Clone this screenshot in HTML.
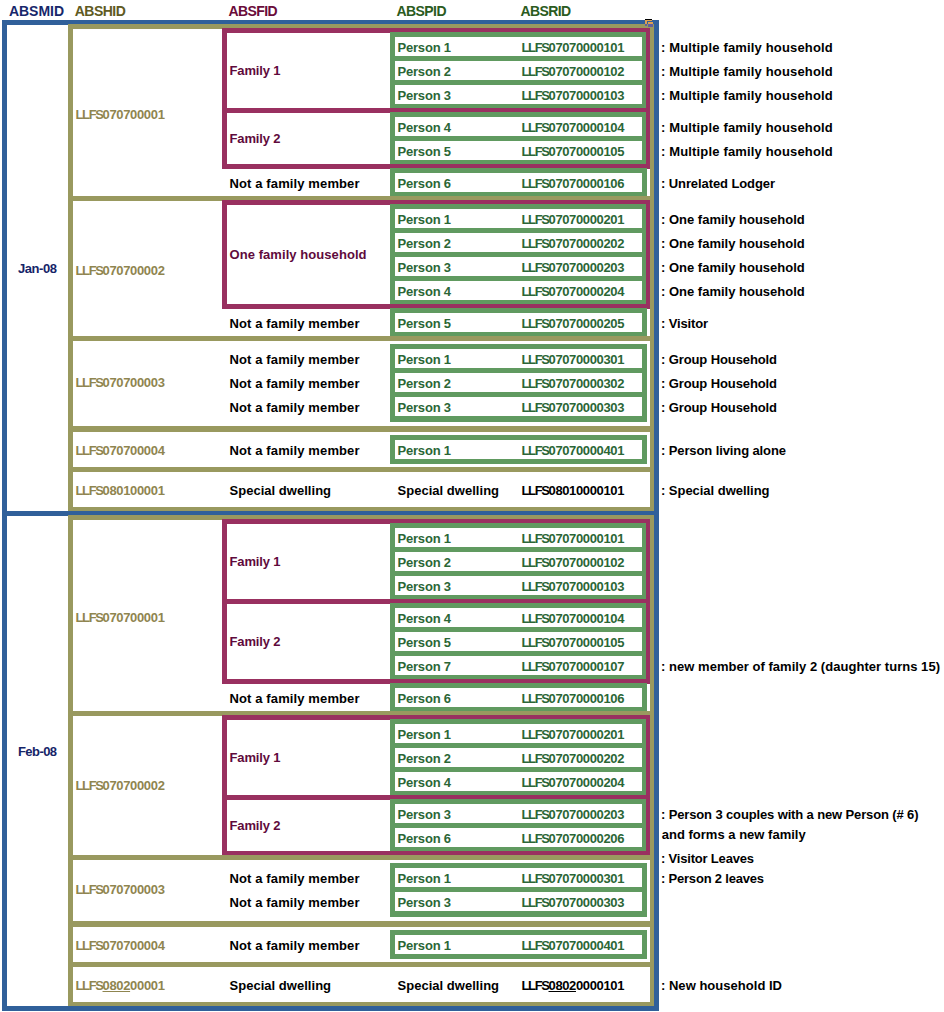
<!DOCTYPE html>
<html><head><meta charset="utf-8"><title>ABS identifiers</title>
<style>
html,body{margin:0;padding:0;background:#fff;}
body{width:944px;height:1012px;position:relative;overflow:hidden;font-family:"Liberation Sans",sans-serif;font-weight:bold;}
.r{position:absolute;}
.t{position:absolute;white-space:nowrap;line-height:16px;height:16px;}
u{text-decoration:underline;}
</style></head><body>
<div class="r" style="left:2px;top:20px;width:657px;height:5px;background:#30609a"></div>
<div class="r" style="left:2px;top:511px;width:657px;height:5px;background:#30609a"></div>
<div class="r" style="left:2px;top:1006px;width:657px;height:5px;background:#30609a"></div>
<div class="r" style="left:2px;top:20px;width:5px;height:991px;background:#30609a"></div>
<div class="r" style="left:654px;top:20px;width:5px;height:991px;background:#30609a"></div>
<div class="r" style="left:68px;top:24px;width:5px;height:487px;background:#99995f"></div>
<div class="r" style="left:650px;top:24px;width:4px;height:487px;background:#99995f"></div>
<div class="r" style="left:68px;top:515px;width:5px;height:491px;background:#99995f"></div>
<div class="r" style="left:650px;top:515px;width:4px;height:491px;background:#99995f"></div>
<div class="r" style="left:68px;top:24px;width:586px;height:5px;background:#99995f"></div>
<div class="r" style="left:68px;top:196px;width:586px;height:5px;background:#99995f"></div>
<div class="r" style="left:68px;top:336px;width:586px;height:5px;background:#99995f"></div>
<div class="r" style="left:68px;top:426px;width:586px;height:6px;background:#99995f"></div>
<div class="r" style="left:68px;top:467px;width:586px;height:5px;background:#99995f"></div>
<div class="r" style="left:68px;top:507px;width:586px;height:4px;background:#99995f"></div>
<div class="r" style="left:68px;top:515px;width:586px;height:5px;background:#99995f"></div>
<div class="r" style="left:68px;top:711px;width:586px;height:5px;background:#99995f"></div>
<div class="r" style="left:68px;top:855px;width:586px;height:5px;background:#99995f"></div>
<div class="r" style="left:68px;top:921px;width:586px;height:6px;background:#99995f"></div>
<div class="r" style="left:68px;top:962px;width:586px;height:5px;background:#99995f"></div>
<div class="r" style="left:68px;top:1002px;width:586px;height:4px;background:#99995f"></div>
<div class="r" style="left:222px;top:28px;width:5px;height:141px;background:#993060"></div>
<div class="r" style="left:646px;top:28px;width:4px;height:141px;background:#993060"></div>
<div class="r" style="left:222px;top:28px;width:428px;height:5px;background:#993060"></div>
<div class="r" style="left:222px;top:108px;width:428px;height:5px;background:#993060"></div>
<div class="r" style="left:222px;top:164px;width:428px;height:5px;background:#993060"></div>
<div class="r" style="left:222px;top:200px;width:5px;height:109px;background:#993060"></div>
<div class="r" style="left:646px;top:200px;width:4px;height:109px;background:#993060"></div>
<div class="r" style="left:222px;top:200px;width:428px;height:5px;background:#993060"></div>
<div class="r" style="left:222px;top:304px;width:428px;height:5px;background:#993060"></div>
<div class="r" style="left:222px;top:519px;width:5px;height:165px;background:#993060"></div>
<div class="r" style="left:646px;top:519px;width:4px;height:165px;background:#993060"></div>
<div class="r" style="left:222px;top:519px;width:428px;height:5px;background:#993060"></div>
<div class="r" style="left:222px;top:599px;width:428px;height:5px;background:#993060"></div>
<div class="r" style="left:222px;top:679px;width:428px;height:5px;background:#993060"></div>
<div class="r" style="left:222px;top:715px;width:5px;height:140px;background:#993060"></div>
<div class="r" style="left:646px;top:715px;width:4px;height:140px;background:#993060"></div>
<div class="r" style="left:222px;top:715px;width:428px;height:5px;background:#993060"></div>
<div class="r" style="left:222px;top:795px;width:428px;height:5px;background:#993060"></div>
<div class="r" style="left:222px;top:851px;width:428px;height:4px;background:#993060"></div>
<div class="r" style="left:390px;top:32px;width:256px;height:76px;background:#609a60"></div>
<div class="r" style="left:390px;top:112px;width:256px;height:52px;background:#609a60"></div>
<div class="r" style="left:390px;top:168px;width:257px;height:28px;background:#609a60"></div>
<div class="r" style="left:390px;top:204px;width:256px;height:100px;background:#609a60"></div>
<div class="r" style="left:390px;top:308px;width:257px;height:28px;background:#609a60"></div>
<div class="r" style="left:390px;top:344px;width:257px;height:78px;background:#609a60"></div>
<div class="r" style="left:390px;top:435px;width:257px;height:29px;background:#609a60"></div>
<div class="r" style="left:390px;top:523px;width:256px;height:76px;background:#609a60"></div>
<div class="r" style="left:390px;top:603px;width:256px;height:76px;background:#609a60"></div>
<div class="r" style="left:390px;top:683px;width:257px;height:28px;background:#609a60"></div>
<div class="r" style="left:390px;top:719px;width:256px;height:76px;background:#609a60"></div>
<div class="r" style="left:390px;top:799px;width:256px;height:52px;background:#609a60"></div>
<div class="r" style="left:390px;top:863px;width:257px;height:54px;background:#609a60"></div>
<div class="r" style="left:390px;top:930px;width:257px;height:29px;background:#609a60"></div>
<div class="r" style="left:395px;top:37px;width:247px;height:19px;background:#fff"></div>
<div class="r" style="left:395px;top:61px;width:247px;height:19px;background:#fff"></div>
<div class="r" style="left:395px;top:85px;width:247px;height:19px;background:#fff"></div>
<div class="r" style="left:395px;top:117px;width:247px;height:19px;background:#fff"></div>
<div class="r" style="left:395px;top:141px;width:247px;height:19px;background:#fff"></div>
<div class="r" style="left:395px;top:173px;width:247px;height:19px;background:#fff"></div>
<div class="r" style="left:395px;top:209px;width:247px;height:19px;background:#fff"></div>
<div class="r" style="left:395px;top:233px;width:247px;height:19px;background:#fff"></div>
<div class="r" style="left:395px;top:257px;width:247px;height:19px;background:#fff"></div>
<div class="r" style="left:395px;top:281px;width:247px;height:19px;background:#fff"></div>
<div class="r" style="left:395px;top:313px;width:247px;height:19px;background:#fff"></div>
<div class="r" style="left:395px;top:349px;width:247px;height:19px;background:#fff"></div>
<div class="r" style="left:395px;top:373px;width:247px;height:19px;background:#fff"></div>
<div class="r" style="left:395px;top:397px;width:247px;height:19px;background:#fff"></div>
<div class="r" style="left:395px;top:440px;width:247px;height:19px;background:#fff"></div>
<div class="r" style="left:395px;top:528px;width:247px;height:19px;background:#fff"></div>
<div class="r" style="left:395px;top:552px;width:247px;height:19px;background:#fff"></div>
<div class="r" style="left:395px;top:576px;width:247px;height:19px;background:#fff"></div>
<div class="r" style="left:395px;top:608px;width:247px;height:19px;background:#fff"></div>
<div class="r" style="left:395px;top:632px;width:247px;height:19px;background:#fff"></div>
<div class="r" style="left:395px;top:656px;width:247px;height:19px;background:#fff"></div>
<div class="r" style="left:395px;top:688px;width:247px;height:19px;background:#fff"></div>
<div class="r" style="left:395px;top:724px;width:247px;height:19px;background:#fff"></div>
<div class="r" style="left:395px;top:748px;width:247px;height:19px;background:#fff"></div>
<div class="r" style="left:395px;top:772px;width:247px;height:19px;background:#fff"></div>
<div class="r" style="left:395px;top:804px;width:247px;height:19px;background:#fff"></div>
<div class="r" style="left:395px;top:828px;width:247px;height:19px;background:#fff"></div>
<div class="r" style="left:395px;top:868px;width:247px;height:19px;background:#fff"></div>
<div class="r" style="left:395px;top:892px;width:247px;height:19px;background:#fff"></div>
<div class="r" style="left:395px;top:935px;width:247px;height:19px;background:#fff"></div>
<div class="r" style="left:645px;top:19px;width:7px;height:1px;background:#000"></div>
<div class="r" style="left:645px;top:20px;width:7px;height:1px;background:#e0a050"></div>
<div class="r" style="left:645px;top:21px;width:2px;height:3px;background:#e0a050"></div>
<div class="r" style="left:648px;top:22px;width:5px;height:2px;background:#e0a050"></div>
<div class="r" style="left:645px;top:24px;width:2px;height:2px;background:#6060a0"></div>
<div class="r" style="left:648px;top:24px;width:5px;height:3px;background:#6060a0"></div>
<div class="t" style="left:8.94px;top:2.65px;font-size:14px;letter-spacing:-0.020px;color:#17276b">ABSMID</div>
<div class="t" style="left:74.74px;top:2.65px;font-size:14px;letter-spacing:-0.510px;color:#605a22">ABSHID</div>
<div class="t" style="left:228.44px;top:2.65px;font-size:14px;letter-spacing:-0.598px;color:#6a0c3a">ABSFID</div>
<div class="t" style="left:396.44px;top:2.65px;font-size:14px;letter-spacing:-0.555px;color:#2b5b20">ABSPID</div>
<div class="t" style="left:520.44px;top:2.65px;font-size:14px;letter-spacing:-0.610px;color:#2b5b20">ABSRID</div>
<div class="t" style="left:397.50px;top:40.00px;font-size:13px;letter-spacing:-0.196px;color:#2b6636">Person 1</div>
<div class="t" style="left:521.50px;top:40.00px;font-size:13px;letter-spacing:-0.363px;color:#2b6636"><span style="letter-spacing:-1.373px">LLFS</span>07070000101</div>
<div class="t" style="left:660.98px;top:40.00px;font-size:13px;letter-spacing:0.163px;color:#000">: Multiple family household</div>
<div class="t" style="left:397.50px;top:64.00px;font-size:13px;letter-spacing:-0.196px;color:#2b6636">Person 2</div>
<div class="t" style="left:521.50px;top:64.00px;font-size:13px;letter-spacing:-0.363px;color:#2b6636"><span style="letter-spacing:-1.373px">LLFS</span>07070000102</div>
<div class="t" style="left:660.98px;top:64.00px;font-size:13px;letter-spacing:0.163px;color:#000">: Multiple family household</div>
<div class="t" style="left:397.50px;top:88.00px;font-size:13px;letter-spacing:-0.196px;color:#2b6636">Person 3</div>
<div class="t" style="left:521.50px;top:88.00px;font-size:13px;letter-spacing:-0.363px;color:#2b6636"><span style="letter-spacing:-1.373px">LLFS</span>07070000103</div>
<div class="t" style="left:660.98px;top:88.00px;font-size:13px;letter-spacing:0.163px;color:#000">: Multiple family household</div>
<div class="t" style="left:397.50px;top:120.00px;font-size:13px;letter-spacing:-0.196px;color:#2b6636">Person 4</div>
<div class="t" style="left:521.50px;top:120.00px;font-size:13px;letter-spacing:-0.363px;color:#2b6636"><span style="letter-spacing:-1.373px">LLFS</span>07070000104</div>
<div class="t" style="left:660.98px;top:120.00px;font-size:13px;letter-spacing:0.163px;color:#000">: Multiple family household</div>
<div class="t" style="left:397.50px;top:144.00px;font-size:13px;letter-spacing:-0.196px;color:#2b6636">Person 5</div>
<div class="t" style="left:521.50px;top:144.00px;font-size:13px;letter-spacing:-0.363px;color:#2b6636"><span style="letter-spacing:-1.373px">LLFS</span>07070000105</div>
<div class="t" style="left:660.98px;top:144.00px;font-size:13px;letter-spacing:0.163px;color:#000">: Multiple family household</div>
<div class="t" style="left:397.50px;top:176.00px;font-size:13px;letter-spacing:-0.196px;color:#2b6636">Person 6</div>
<div class="t" style="left:521.50px;top:176.00px;font-size:13px;letter-spacing:-0.363px;color:#2b6636"><span style="letter-spacing:-1.373px">LLFS</span>07070000106</div>
<div class="t" style="left:229.50px;top:176.00px;font-size:13px;letter-spacing:0.120px;color:#000">Not a family member</div>
<div class="t" style="left:660.98px;top:176.00px;font-size:13px;letter-spacing:-0.090px;color:#000">: Unrelated Lodger</div>
<div class="t" style="left:397.50px;top:212.00px;font-size:13px;letter-spacing:-0.196px;color:#2b6636">Person 1</div>
<div class="t" style="left:521.50px;top:212.00px;font-size:13px;letter-spacing:-0.363px;color:#2b6636"><span style="letter-spacing:-1.373px">LLFS</span>07070000201</div>
<div class="t" style="left:660.98px;top:212.00px;font-size:13px;letter-spacing:0.003px;color:#000">: One family household</div>
<div class="t" style="left:397.50px;top:236.00px;font-size:13px;letter-spacing:-0.196px;color:#2b6636">Person 2</div>
<div class="t" style="left:521.50px;top:236.00px;font-size:13px;letter-spacing:-0.363px;color:#2b6636"><span style="letter-spacing:-1.373px">LLFS</span>07070000202</div>
<div class="t" style="left:660.98px;top:236.00px;font-size:13px;letter-spacing:0.003px;color:#000">: One family household</div>
<div class="t" style="left:397.50px;top:260.00px;font-size:13px;letter-spacing:-0.196px;color:#2b6636">Person 3</div>
<div class="t" style="left:521.50px;top:260.00px;font-size:13px;letter-spacing:-0.363px;color:#2b6636"><span style="letter-spacing:-1.373px">LLFS</span>07070000203</div>
<div class="t" style="left:660.98px;top:260.00px;font-size:13px;letter-spacing:0.003px;color:#000">: One family household</div>
<div class="t" style="left:397.50px;top:284.00px;font-size:13px;letter-spacing:-0.196px;color:#2b6636">Person 4</div>
<div class="t" style="left:521.50px;top:284.00px;font-size:13px;letter-spacing:-0.363px;color:#2b6636"><span style="letter-spacing:-1.373px">LLFS</span>07070000204</div>
<div class="t" style="left:660.98px;top:284.00px;font-size:13px;letter-spacing:0.003px;color:#000">: One family household</div>
<div class="t" style="left:397.50px;top:316.00px;font-size:13px;letter-spacing:-0.196px;color:#2b6636">Person 5</div>
<div class="t" style="left:521.50px;top:316.00px;font-size:13px;letter-spacing:-0.363px;color:#2b6636"><span style="letter-spacing:-1.373px">LLFS</span>07070000205</div>
<div class="t" style="left:229.50px;top:316.00px;font-size:13px;letter-spacing:0.120px;color:#000">Not a family member</div>
<div class="t" style="left:660.98px;top:316.00px;font-size:13px;letter-spacing:-0.140px;color:#000">: Visitor</div>
<div class="t" style="left:397.50px;top:352.00px;font-size:13px;letter-spacing:-0.196px;color:#2b6636">Person 1</div>
<div class="t" style="left:521.50px;top:352.00px;font-size:13px;letter-spacing:-0.363px;color:#2b6636"><span style="letter-spacing:-1.373px">LLFS</span>07070000301</div>
<div class="t" style="left:229.50px;top:352.00px;font-size:13px;letter-spacing:0.120px;color:#000">Not a family member</div>
<div class="t" style="left:660.98px;top:352.00px;font-size:13px;letter-spacing:-0.104px;color:#000">: Group Household</div>
<div class="t" style="left:397.50px;top:376.00px;font-size:13px;letter-spacing:-0.196px;color:#2b6636">Person 2</div>
<div class="t" style="left:521.50px;top:376.00px;font-size:13px;letter-spacing:-0.363px;color:#2b6636"><span style="letter-spacing:-1.373px">LLFS</span>07070000302</div>
<div class="t" style="left:229.50px;top:376.00px;font-size:13px;letter-spacing:0.120px;color:#000">Not a family member</div>
<div class="t" style="left:660.98px;top:376.00px;font-size:13px;letter-spacing:-0.104px;color:#000">: Group Household</div>
<div class="t" style="left:397.50px;top:400.00px;font-size:13px;letter-spacing:-0.196px;color:#2b6636">Person 3</div>
<div class="t" style="left:521.50px;top:400.00px;font-size:13px;letter-spacing:-0.363px;color:#2b6636"><span style="letter-spacing:-1.373px">LLFS</span>07070000303</div>
<div class="t" style="left:229.50px;top:400.00px;font-size:13px;letter-spacing:0.120px;color:#000">Not a family member</div>
<div class="t" style="left:660.98px;top:400.00px;font-size:13px;letter-spacing:-0.104px;color:#000">: Group Household</div>
<div class="t" style="left:397.50px;top:443.00px;font-size:13px;letter-spacing:-0.196px;color:#2b6636">Person 1</div>
<div class="t" style="left:521.50px;top:443.00px;font-size:13px;letter-spacing:-0.363px;color:#2b6636"><span style="letter-spacing:-1.373px">LLFS</span>07070000401</div>
<div class="t" style="left:229.50px;top:443.00px;font-size:13px;letter-spacing:0.120px;color:#000">Not a family member</div>
<div class="t" style="left:660.98px;top:443.00px;font-size:13px;letter-spacing:-0.105px;color:#000">: Person living alone</div>
<div class="t" style="left:397.50px;top:531.00px;font-size:13px;letter-spacing:-0.196px;color:#2b6636">Person 1</div>
<div class="t" style="left:521.50px;top:531.00px;font-size:13px;letter-spacing:-0.363px;color:#2b6636"><span style="letter-spacing:-1.373px">LLFS</span>07070000101</div>
<div class="t" style="left:397.50px;top:555.00px;font-size:13px;letter-spacing:-0.196px;color:#2b6636">Person 2</div>
<div class="t" style="left:521.50px;top:555.00px;font-size:13px;letter-spacing:-0.363px;color:#2b6636"><span style="letter-spacing:-1.373px">LLFS</span>07070000102</div>
<div class="t" style="left:397.50px;top:579.00px;font-size:13px;letter-spacing:-0.196px;color:#2b6636">Person 3</div>
<div class="t" style="left:521.50px;top:579.00px;font-size:13px;letter-spacing:-0.363px;color:#2b6636"><span style="letter-spacing:-1.373px">LLFS</span>07070000103</div>
<div class="t" style="left:397.50px;top:611.00px;font-size:13px;letter-spacing:-0.196px;color:#2b6636">Person 4</div>
<div class="t" style="left:521.50px;top:611.00px;font-size:13px;letter-spacing:-0.363px;color:#2b6636"><span style="letter-spacing:-1.373px">LLFS</span>07070000104</div>
<div class="t" style="left:397.50px;top:635.00px;font-size:13px;letter-spacing:-0.196px;color:#2b6636">Person 5</div>
<div class="t" style="left:521.50px;top:635.00px;font-size:13px;letter-spacing:-0.363px;color:#2b6636"><span style="letter-spacing:-1.373px">LLFS</span>07070000105</div>
<div class="t" style="left:397.50px;top:659.00px;font-size:13px;letter-spacing:-0.196px;color:#2b6636">Person 7</div>
<div class="t" style="left:521.50px;top:659.00px;font-size:13px;letter-spacing:-0.363px;color:#2b6636"><span style="letter-spacing:-1.373px">LLFS</span>07070000107</div>
<div class="t" style="left:660.98px;top:659.00px;font-size:13px;letter-spacing:0.038px;color:#000">: new member of family 2 (daughter turns 15)</div>
<div class="t" style="left:397.50px;top:691.00px;font-size:13px;letter-spacing:-0.196px;color:#2b6636">Person 6</div>
<div class="t" style="left:521.50px;top:691.00px;font-size:13px;letter-spacing:-0.363px;color:#2b6636"><span style="letter-spacing:-1.373px">LLFS</span>07070000106</div>
<div class="t" style="left:229.50px;top:691.00px;font-size:13px;letter-spacing:0.120px;color:#000">Not a family member</div>
<div class="t" style="left:397.50px;top:727.00px;font-size:13px;letter-spacing:-0.196px;color:#2b6636">Person 1</div>
<div class="t" style="left:521.50px;top:727.00px;font-size:13px;letter-spacing:-0.363px;color:#2b6636"><span style="letter-spacing:-1.373px">LLFS</span>07070000201</div>
<div class="t" style="left:397.50px;top:751.00px;font-size:13px;letter-spacing:-0.196px;color:#2b6636">Person 2</div>
<div class="t" style="left:521.50px;top:751.00px;font-size:13px;letter-spacing:-0.363px;color:#2b6636"><span style="letter-spacing:-1.373px">LLFS</span>07070000202</div>
<div class="t" style="left:397.50px;top:775.00px;font-size:13px;letter-spacing:-0.196px;color:#2b6636">Person 4</div>
<div class="t" style="left:521.50px;top:775.00px;font-size:13px;letter-spacing:-0.363px;color:#2b6636"><span style="letter-spacing:-1.373px">LLFS</span>07070000204</div>
<div class="t" style="left:397.50px;top:807.00px;font-size:13px;letter-spacing:-0.196px;color:#2b6636">Person 3</div>
<div class="t" style="left:521.50px;top:807.00px;font-size:13px;letter-spacing:-0.363px;color:#2b6636"><span style="letter-spacing:-1.373px">LLFS</span>07070000203</div>
<div class="t" style="left:660.98px;top:807.00px;font-size:13px;letter-spacing:-0.132px;color:#000">: Person 3 couples with a new Person (# 6)</div>
<div class="t" style="left:397.50px;top:831.00px;font-size:13px;letter-spacing:-0.196px;color:#2b6636">Person 6</div>
<div class="t" style="left:521.50px;top:831.00px;font-size:13px;letter-spacing:-0.363px;color:#2b6636"><span style="letter-spacing:-1.373px">LLFS</span>07070000206</div>
<div class="t" style="left:397.50px;top:871.00px;font-size:13px;letter-spacing:-0.196px;color:#2b6636">Person 1</div>
<div class="t" style="left:521.50px;top:871.00px;font-size:13px;letter-spacing:-0.363px;color:#2b6636"><span style="letter-spacing:-1.373px">LLFS</span>07070000301</div>
<div class="t" style="left:229.50px;top:871.00px;font-size:13px;letter-spacing:0.120px;color:#000">Not a family member</div>
<div class="t" style="left:660.98px;top:871.00px;font-size:13px;letter-spacing:-0.199px;color:#000">: Person 2 leaves</div>
<div class="t" style="left:397.50px;top:895.00px;font-size:13px;letter-spacing:-0.196px;color:#2b6636">Person 3</div>
<div class="t" style="left:521.50px;top:895.00px;font-size:13px;letter-spacing:-0.363px;color:#2b6636"><span style="letter-spacing:-1.373px">LLFS</span>07070000303</div>
<div class="t" style="left:229.50px;top:895.00px;font-size:13px;letter-spacing:0.120px;color:#000">Not a family member</div>
<div class="t" style="left:397.50px;top:938.00px;font-size:13px;letter-spacing:-0.196px;color:#2b6636">Person 1</div>
<div class="t" style="left:521.50px;top:938.00px;font-size:13px;letter-spacing:-0.363px;color:#2b6636"><span style="letter-spacing:-1.373px">LLFS</span>07070000401</div>
<div class="t" style="left:229.50px;top:938.00px;font-size:13px;letter-spacing:0.120px;color:#000">Not a family member</div>
<div class="t" style="left:661.70px;top:826.50px;font-size:13px;letter-spacing:0.013px;color:#000">and forms a new family</div>
<div class="t" style="left:660.98px;top:851.00px;font-size:13px;letter-spacing:-0.188px;color:#000">: Visitor Leaves</div>
<div class="t" style="left:75.50px;top:483.00px;font-size:13px;letter-spacing:-0.337px;color:#8f854f"><span style="letter-spacing:-1.373px">LLFS</span>080100001</div>
<div class="t" style="left:521.50px;top:483.00px;font-size:13px;letter-spacing:-0.363px;color:#000"><span style="letter-spacing:-1.373px">LLFS</span>08010000101</div>
<div class="t" style="left:229.50px;top:483.00px;font-size:13px;letter-spacing:0.027px;color:#000">Special dwelling</div>
<div class="t" style="left:397.50px;top:483.00px;font-size:13px;letter-spacing:0.027px;color:#000">Special dwelling</div>
<div class="t" style="left:660.98px;top:483.00px;font-size:13px;letter-spacing:-0.032px;color:#000">: Special dwelling</div>
<div class="t" style="left:75.50px;top:978.00px;font-size:13px;letter-spacing:-0.337px;color:#8f854f"><span style="letter-spacing:-1.373px">LLFS</span><u>0802</u>00001</div>
<div class="t" style="left:521.50px;top:978.00px;font-size:13px;letter-spacing:-0.363px;color:#000"><span style="letter-spacing:-1.373px">LLFS</span><u>0802</u>0000101</div>
<div class="t" style="left:229.50px;top:978.00px;font-size:13px;letter-spacing:0.027px;color:#000">Special dwelling</div>
<div class="t" style="left:397.50px;top:978.00px;font-size:13px;letter-spacing:0.027px;color:#000">Special dwelling</div>
<div class="t" style="left:660.98px;top:978.00px;font-size:13px;letter-spacing:0.025px;color:#000">: New household ID</div>
<div class="t" style="left:75.50px;top:106.50px;font-size:13px;letter-spacing:-0.337px;color:#8f854f"><span style="letter-spacing:-1.373px">LLFS</span>070700001</div>
<div class="t" style="left:75.50px;top:262.50px;font-size:13px;letter-spacing:-0.337px;color:#8f854f"><span style="letter-spacing:-1.373px">LLFS</span>070700002</div>
<div class="t" style="left:75.50px;top:374.50px;font-size:13px;letter-spacing:-0.337px;color:#8f854f"><span style="letter-spacing:-1.373px">LLFS</span>070700003</div>
<div class="t" style="left:75.50px;top:443.00px;font-size:13px;letter-spacing:-0.337px;color:#8f854f"><span style="letter-spacing:-1.373px">LLFS</span>070700004</div>
<div class="t" style="left:75.50px;top:609.50px;font-size:13px;letter-spacing:-0.337px;color:#8f854f"><span style="letter-spacing:-1.373px">LLFS</span>070700001</div>
<div class="t" style="left:75.50px;top:777.50px;font-size:13px;letter-spacing:-0.337px;color:#8f854f"><span style="letter-spacing:-1.373px">LLFS</span>070700002</div>
<div class="t" style="left:75.50px;top:881.50px;font-size:13px;letter-spacing:-0.337px;color:#8f854f"><span style="letter-spacing:-1.373px">LLFS</span>070700003</div>
<div class="t" style="left:75.50px;top:938.00px;font-size:13px;letter-spacing:-0.337px;color:#8f854f"><span style="letter-spacing:-1.373px">LLFS</span>070700004</div>
<div class="t" style="left:229.50px;top:62.50px;font-size:13px;letter-spacing:-0.141px;color:#600a3c">Family 1</div>
<div class="t" style="left:229.50px;top:130.50px;font-size:13px;letter-spacing:-0.141px;color:#600a3c">Family 2</div>
<div class="t" style="left:229.50px;top:246.50px;font-size:13px;letter-spacing:0.065px;color:#600a3c">One family household</div>
<div class="t" style="left:229.50px;top:553.50px;font-size:13px;letter-spacing:-0.141px;color:#600a3c">Family 1</div>
<div class="t" style="left:229.50px;top:633.50px;font-size:13px;letter-spacing:-0.141px;color:#600a3c">Family 2</div>
<div class="t" style="left:229.50px;top:749.50px;font-size:13px;letter-spacing:-0.141px;color:#600a3c">Family 1</div>
<div class="t" style="left:229.50px;top:817.50px;font-size:13px;letter-spacing:-0.141px;color:#600a3c">Family 2</div>
<div class="t" style="left:18.00px;top:261.00px;font-size:13px;letter-spacing:-0.430px;color:#152468">Jan-08</div>
<div class="t" style="left:18.00px;top:744.00px;font-size:13px;letter-spacing:-0.572px;color:#152468">Feb-08</div>
</body></html>
